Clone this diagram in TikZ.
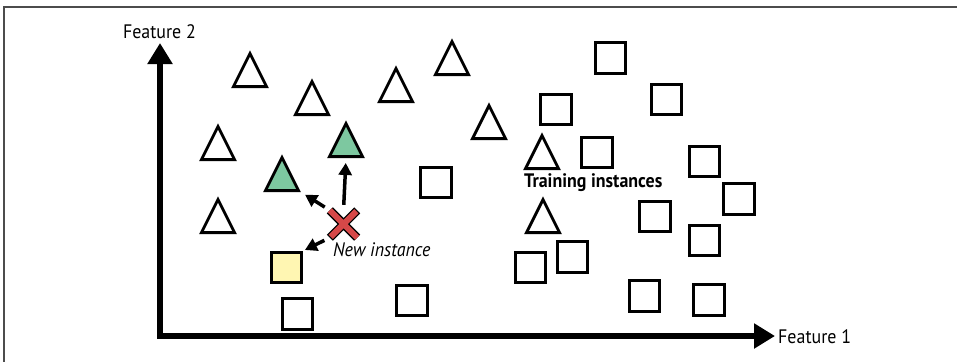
\documentclass[tikz,border=0pt]{standalone}
\usepackage{fontspec}
\setmainfont[FakeStretch=0.92]{PT Sans}
\usetikzlibrary{shapes.geometric, arrows.meta}

\definecolor{knngreen}{RGB}{125,200,160}
\definecolor{knnyellow}{RGB}{255,246,178}
\definecolor{knnred}{RGB}{214,72,72}

\tikzstyle{triangle}=[isosceles triangle, isosceles triangle stretches,
                      shape border rotate=90, anchor=lower side,
                      minimum width=33, minimum height=33,
                      inner sep=0, draw, line width=2.8]
\tikzstyle{square}=[rectangle, draw, line width=2.8,
                    minimum size=30.5, inner sep=0]
\tikzstyle{caption}=[inner sep=0, font=\fontsize{19.5}{22}\selectfont]
\tikzstyle{axis}=[line width=6,
                  {Triangle[length=21pt, width=24pt]}-{Triangle[length=21pt, width=24pt]}]
\tikzstyle{pointer}=[line width=3.5, -{Triangle[length=12pt, width=13pt]}]

\begin{document}
\begin{tikzpicture}[x=1pt, y=-1pt]

  \useasboundingbox (0, 0) rectangle (957, 362);
  \draw [black!70, line width=1.5] (957, 7) -- (4, 7) -- (4, 362);

  %%%%%%%%%%%%%%%%%%%%%%%%%%%%%%
  % axes
  \coordinate (Origin) at (160, 336);
  \coordinate (TopEnd) at (160, 43);
  \coordinate (RightEnd) at (775, 336);
  \draw [axis] (TopEnd) -- (Origin) -- (RightEnd);

  \node (Feature2) at (159.5, 32) [caption] {Feature 2};
  \node (Feature1) at (778, 337) [caption, anchor=west] {Feature 1};

  %%%%%%%%%%%%%%%%%%%%%%%%%%%%%%
  % training instances: triangles
  \node (TriA) at (250, 88) [triangle] {};
  \node (TriB) at (312, 116) [triangle] {};
  \node (TriC) at (218, 161) [triangle] {};
  \node (TriD) at (218, 234) [triangle] {};
  \node (TriE) at (396, 103) [triangle] {};
  \node (TriF) at (452, 76) [triangle] {};
  \node (TriG) at (489, 140) [triangle] {};
  \node (TriH) at (542, 170) [triangle] {};
  \node (TriI) at (543, 234) [triangle] {};
  \node (NearTriA) at (282, 192) [triangle, fill=knngreen] {};
  \node (NearTriB) at (346, 158) [triangle, fill=knngreen] {};

  % training instances: squares
  \node (SqA) at (610.5, 58) [square] {};
  \node (SqB) at (666.5, 99.5) [square] {};
  \node (SqC) at (556, 109.5) [square] {};
  \node (SqD) at (597, 152.5) [square] {};
  \node (SqE) at (704.5, 161.5) [square] {};
  \node (SqF) at (739, 199) [square] {};
  \node (SqG) at (655, 216.5) [square] {};
  \node (SqH) at (704.5, 240.5) [square] {};
  \node (SqI) at (572.5, 257) [square] {};
  \node (SqJ) at (530.5, 267.5) [square] {};
  \node (SqK) at (436, 182.5) [square] {};
  \node (SqL) at (412, 300.5) [square] {};
  \node (SqM) at (297.5, 314) [square] {};
  \node (SqN) at (644.5, 296) [square] {};
  \node (SqO) at (709, 300) [square] {};
  \node (NearSq) at (286.5, 267.5) [square, fill=knnyellow] {};

  \node (TrainLabel) at (524, 183) [caption, anchor=west] {\bfseries Training instances};

  %%%%%%%%%%%%%%%%%%%%%%%%%%%%%%
  % new instance
  \node (New) at (343.5, 224) [minimum size=27, inner sep=0] {};
  \draw [line width=8.5] (New.north west) -- (New.south east)
                         (New.south west) -- (New.north east);
  \draw [knnred, line width=6, shorten <=1.3, shorten >=1.3]
        (New.north west) -- (New.south east)
        (New.south west) -- (New.north east);
  \node (NewLabel) at (333, 250) [caption, anchor=west] {\itshape New instance};

  \draw [pointer, shorten <=5.5, shorten >=5] (New.north) -- (NearTriB.lower side);
  \draw [pointer, shorten <=6, shorten >=5] (New.north west) -- (NearTriA.right corner);
  \draw [pointer, shorten <=6, shorten >=2] (New.south west) -- (NearSq.north east);

\end{tikzpicture}
\end{document}
